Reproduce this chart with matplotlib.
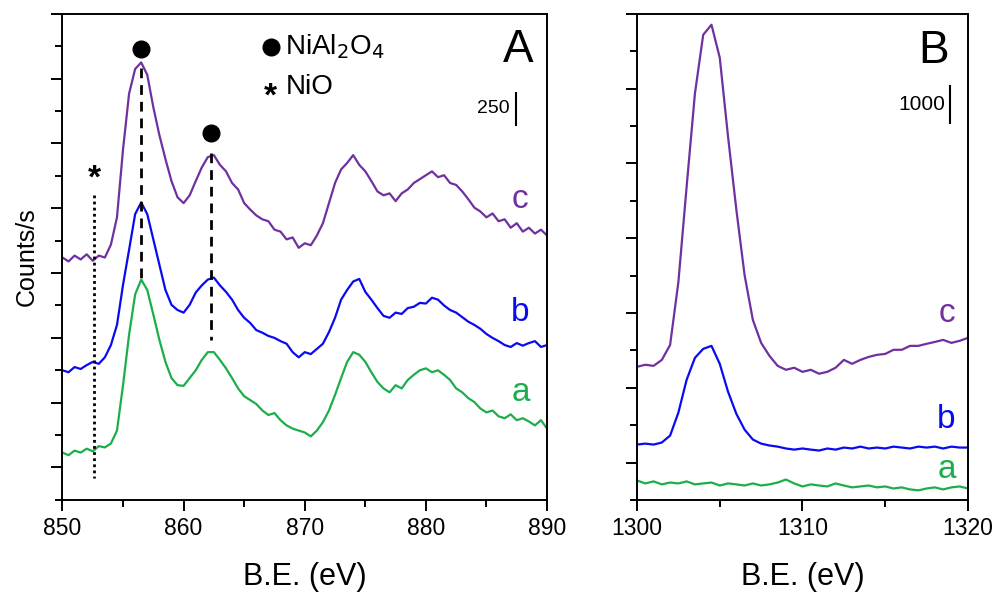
import numpy as np
import matplotlib
matplotlib.use('Agg')
from matplotlib import pyplot as plt
from matplotlib.ticker import MultipleLocator

plt.rcParams['font.family'] = ['Liberation Sans', 'DejaVu Sans']

# ---- panel A : Ni 2p region (counts/s, curves offset) ----
be_ni = np.arange(850, 890.01, 0.5)
ni_c = [1620, 1590, 1635, 1605, 1645, 1595, 1635, 1620, 1720, 1930,
        2455, 2885, 3075, 3125, 3030, 2780, 2565, 2380, 2210, 2085,
        2040, 2100, 2210, 2315, 2395, 2410, 2335, 2285, 2195, 2145,
        2040, 1990, 1945, 1915, 1900, 1835, 1820, 1760, 1775, 1695,
        1730, 1715, 1790, 1885, 2040, 2195, 2300, 2350, 2410, 2335,
        2285, 2210, 2130, 2100, 2115, 2055, 2115, 2145, 2195, 2225,
        2255, 2285, 2240, 2255, 2195, 2180, 2130, 2070, 2005, 1975,
        1930, 1960, 1900, 1915, 1850, 1885, 1820, 1850, 1805, 1835,
        1790]
ni_b = [750, 735, 775, 760, 790, 815, 800, 850, 945, 1100,
        1410, 1680, 1955, 2045, 1955, 1760, 1565, 1370, 1255, 1215,
        1195, 1255, 1350, 1405, 1450, 1465, 1405, 1355, 1295, 1215,
        1155, 1115, 1060, 1040, 1015, 1000, 975, 955, 890, 850,
        890, 875, 915, 955, 1045, 1155, 1295, 1370, 1435, 1455,
        1355, 1295, 1230, 1170, 1155, 1195, 1185, 1230, 1240, 1270,
        1265, 1310, 1295, 1250, 1215, 1195, 1160, 1125, 1100, 1070,
        1030, 1000, 975, 945, 930, 960, 940, 960, 975, 930,
        945]
ni_a = [115, 95, 130, 115, 145, 125, 165, 155, 185, 285,
        635, 1025, 1335, 1450, 1370, 1180, 985, 815, 690, 635,
        630, 690, 750, 830, 890, 890, 830, 765, 690, 610,
        550, 520, 490, 440, 405, 420, 365, 325, 300, 285,
        270, 240, 285, 350, 440, 560, 690, 815, 890, 870,
        815, 735, 660, 610, 580, 635, 610, 675, 715, 750,
        765, 735, 750, 715, 675, 610, 580, 535, 505, 455,
        425, 440, 395, 380, 410, 365, 380, 355, 325, 365,
        300]

# ---- panel B : Al 1s region ----
be_al = np.arange(1300, 1320.01, 0.5)
al_c = [2560, 2615, 2585, 2745, 3145, 4825, 7385, 9870, 11440, 11710,
        10830, 8720, 6775, 5015, 3815, 3200, 2855, 2585, 2480, 2535,
        2425, 2480, 2375, 2425, 2535, 2745, 2640, 2745, 2825, 2880,
        2905, 3015, 3015, 3120, 3120, 3175, 3225, 3280, 3200, 3255,
        3335]
al_b = [480, 505, 480, 535, 720, 1335, 2215, 2800, 3040, 3120,
        2640, 1895, 1305, 880, 615, 505, 455, 425, 375, 345,
        375, 345, 320, 375, 345, 400, 375, 425, 375, 400,
        375, 425, 400, 375, 425, 400, 425, 375, 425, 400,
        400]
al_a = [-480, -560, -505, -585, -535, -560, -505, -585, -560, -535,
        -615, -560, -585, -615, -560, -615, -585, -535, -455, -560,
        -640, -585, -615, -640, -560, -615, -665, -640, -615, -665,
        -640, -695, -665, -720, -745, -695, -665, -720, -665, -640,
        -695]

# peak markers
spinel_pos = [856.5, 862.3]
spinel_top = [3230, 2580]
spinel_low = [1465, 985]
nio_pos = 852.6

purple = '#7030A0'
blue = '#0A0AF0'
green = '#1BAE4B'

fig = plt.figure(figsize=(9.93, 5.93), dpi=100)
ax1 = fig.add_axes([0.0629, 0.157, 0.488, 0.8196])
ax2 = fig.add_axes([0.6415, 0.157, 0.3333, 0.8196])

ax1.plot(be_ni, ni_c, color=purple, lw=1.6)
ax1.plot(be_ni, ni_b, color=blue, lw=1.6)
ax1.plot(be_ni, ni_a, color=green, lw=1.6)

for xp, yt, yl in zip(spinel_pos, spinel_top, spinel_low):
    ax1.plot([xp, xp], [yt - 150, yl], color='black', lw=2, ls=(0, (3.5, 2.5)))
    ax1.plot(xp, yt, 'o', color='black', ms=12)
ax1.plot([nio_pos, nio_pos], [2100, -80], color='black', lw=2, ls=(0, (1, 1.2)))
ax1.text(nio_pos, 2225, '*', fontsize=24, ha='center', va='center', fontweight='bold')

# legend
ax1.plot(867.2, 3245, 'o', color='black', ms=12)
ax1.text(868.4, 3245, 'NiAl$_2$O$_4$', fontsize=20, va='center', ha='left')
ax1.text(867.2, 2860, '*', fontsize=24, va='center', ha='center', fontweight='bold')
ax1.text(868.4, 2935, 'NiO', fontsize=20, va='center', ha='left')

ax1.text(887.6, 3220, 'A', fontsize=33, ha='center', va='center')
ax1.text(886.9, 2767, '250', fontsize=14, ha='right', va='center')
ax1.plot([887.4, 887.4], [2642, 2892], color='black', lw=1.5)

ax1.text(887.8, 2069, 'c', color=purple, fontsize=24, ha='center', va='center')
ax1.text(887.8, 1193, 'b', color=blue, fontsize=24, ha='center', va='center')
ax1.text(887.8, 581, 'a', color=green, fontsize=24, ha='center', va='center')

ax1.set_xlim(850, 890)
ax1.set_ylim(-250, 3500)
ax1.xaxis.set_major_locator(MultipleLocator(10))
ax1.xaxis.set_minor_locator(MultipleLocator(5))
ax1.yaxis.set_major_locator(MultipleLocator(500))
ax1.yaxis.set_minor_locator(MultipleLocator(250))
ax1.yaxis.set_major_formatter(plt.NullFormatter())
ax1.set_xlabel('B.E. (eV)', fontsize=22, labelpad=16)
ax1.set_ylabel('Counts/s', fontsize=18, labelpad=5)

ax2.plot(be_al, al_c, color=purple, lw=1.6)
ax2.plot(be_al, al_b, color=blue, lw=1.6)
ax2.plot(be_al, al_a, color=green, lw=1.6)

ax2.text(1317.9, 11015, 'B', fontsize=33, ha='center', va='center')
ax2.text(1318.6, 9575, '1000', fontsize=15, ha='right', va='center')
ax2.plot([1318.9, 1318.9], [9075, 10075], color='black', lw=1.5)
ax2.text(1318.7, 3974, 'c', color=purple, fontsize=24, ha='center', va='center')
ax2.text(1318.7, 1147, 'b', color=blue, fontsize=24, ha='center', va='center')
ax2.text(1318.7, -187, 'a', color=green, fontsize=24, ha='center', va='center')

ax2.set_xlim(1300, 1320)
ax2.set_ylim(-1000, 12000)
ax2.xaxis.set_major_locator(MultipleLocator(10))
ax2.xaxis.set_minor_locator(MultipleLocator(5))
ax2.yaxis.set_major_locator(MultipleLocator(2000))
ax2.yaxis.set_minor_locator(MultipleLocator(1000))
ax2.yaxis.set_major_formatter(plt.NullFormatter())
ax2.set_xlabel('B.E. (eV)', fontsize=22, labelpad=16)

for ax in (ax1, ax2):
    for s in ax.spines.values():
        s.set_linewidth(1.4)
    ax.tick_params(which='major', direction='out', length=8, width=1.4, labelsize=16.5, pad=4)
    ax.tick_params(which='minor', direction='out', length=5, width=1.4)
    ax.tick_params(top=False, right=False)

fig.savefig('out.png', dpi=100)
